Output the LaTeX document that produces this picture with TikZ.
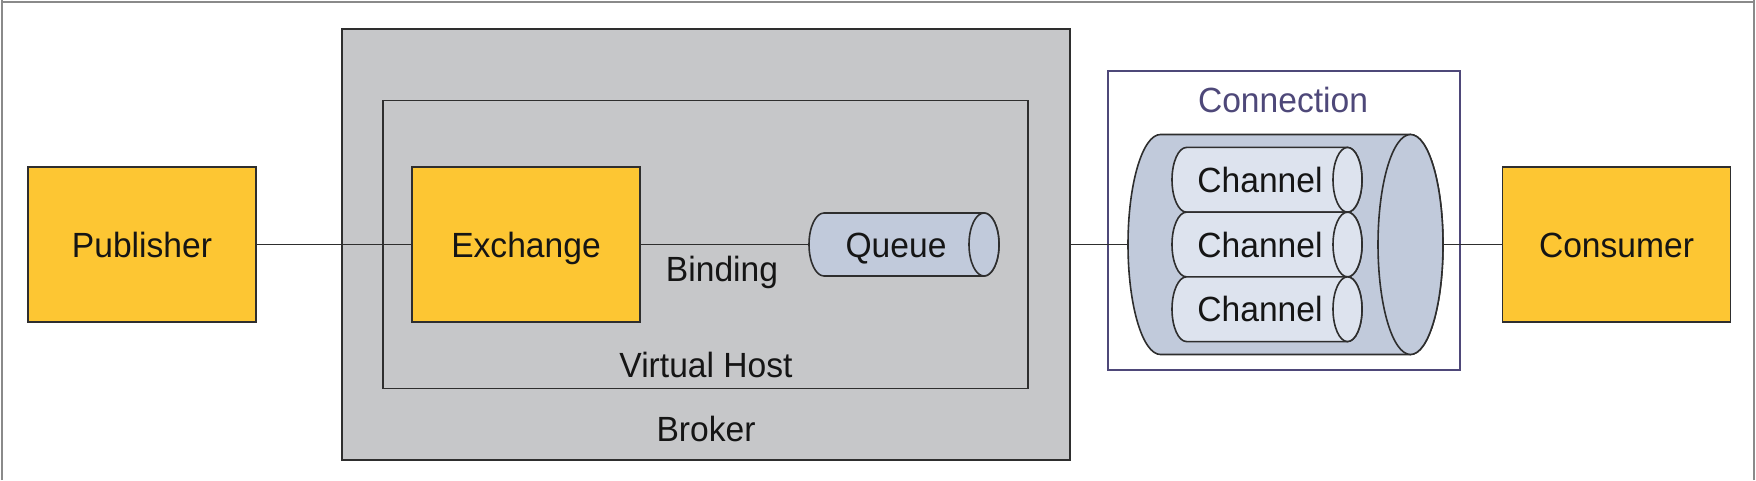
\documentclass[tikz,border=0pt]{standalone}
\usepackage{fontspec}
\setmainfont{Liberation Sans}[FakeStretch=0.96]
\definecolor{ylw}{HTML}{FDC633}
\definecolor{brk}{HTML}{C6C7C9}
\definecolor{cylf}{HTML}{C1CADB}
\definecolor{chf}{HTML}{DDE3EE}
\definecolor{connc}{HTML}{4E4879}
\definecolor{edgec}{HTML}{2E2E2E}
\definecolor{txtc}{HTML}{151515}
\definecolor{framec}{HTML}{8A8A8A}
\pgfdeclarelayer{back}
\pgfdeclarelayer{mid}
\pgfsetlayers{back,mid,main}
\begin{document}
\begin{tikzpicture}[x=1pt,y=1pt,
  lbl/.style={font=\fontsize{35}{40}\selectfont, text=txtc, inner sep=0pt, text height=25pt, text depth=0pt},
  ybox/.style={draw=edgec, line width=1.8pt, fill=ylw, inner sep=0pt, lbl, minimum height=155pt, minimum width=228pt},
  frame/.style={draw=edgec, line width=1.8pt},
  cylst/.style={draw=edgec, line width=1.6pt},
  wire/.style={draw=edgec, line width=1.4pt}]
\useasboundingbox (0,0) rectangle (1756,480);
% outer frame (open at the bottom)
\draw[framec, line width=2.5pt] (2,480) -- (2,477.8) -- (1754,477.8) -- (1754,480);
\draw[framec, line width=2.5pt] (2,0) -- (2,478) (1754,0) -- (1754,478);

\begin{pgfonlayer}{back}
\node[frame, fill=brk, minimum width=728pt, minimum height=431pt, inner sep=0pt] (broker) at (706,235.5) {};
\node[frame, minimum width=645pt, minimum height=288pt, inner sep=0pt] (vhost) at (705.5,235.5) {};
\node[draw=connc, line width=1.8pt, minimum width=352pt, minimum height=299pt, inner sep=0pt] (connbox) at (1284,259.5) {};
\end{pgfonlayer}

\node[lbl] (brokerlbl) at (706,51) {Broker};
\node[lbl] (vhostlbl) at (706,115) {Virtual Host};
\node[lbl, text=connc] (connlbl) at (1283,380) {Connection};

% yellow boxes
\node[ybox] (pub) at (142,235.5) {Publisher};
\node[ybox] (exch) at (526,235.5) {Exchange};
\node[ybox] (cons) at (1616.5,235.5) {Consumer};

% queue
\draw[cylst, fill=cylf] (824,267) -- (984,267) arc[start angle=90,end angle=-90,x radius=15,y radius=31.5] -- (824,204) arc[start angle=270,end angle=90,x radius=15,y radius=31.5] -- cycle;
\draw[cylst, fill=cylf] (984,235.5) ellipse[x radius=15,y radius=31.5];
\node[lbl] (queue) at (896,235.5) {Queue};
\coordinate (queueW) at (809,235.5);
\node[lbl] (binding) at (722,211) {Binding};

% connection cylinder
\draw[cylst, fill=cylf] (1160.5,345.5) -- (1410.5,345.5) arc[start angle=90,end angle=-90,x radius=32.5,y radius=110] -- (1160.5,125.5) arc[start angle=270,end angle=90,x radius=32.5,y radius=110] -- cycle;
\draw[cylst, fill=cylf] (1410.5,235.5) ellipse[x radius=32.5,y radius=110];
\coordinate (cylW) at (1128,235.5);
\coordinate (cylE) at (1443,235.5);

% channels
\foreach \cy/\nm in {300.2/ch1, 235.5/ch2, 170.8/ch3}{
  \draw[cylst, fill=chf] (1186.5,\cy+32.35) -- (1347.5,\cy+32.35) arc[start angle=90,end angle=-90,x radius=14.5,y radius=32.35] -- (1186.5,\cy-32.35) arc[start angle=270,end angle=90,x radius=14.5,y radius=32.35] -- cycle;
  \draw[cylst, fill=chf] (1347.5,\cy) ellipse[x radius=14.5,y radius=32.35];
  \node[lbl] (\nm) at (1260,\cy) {Channel};
}

% wires
\begin{pgfonlayer}{mid}
\draw[wire] (pub.east) -- (exch.west);
\draw[wire] (exch.east) -- (queueW);
\draw[wire] (broker.east) -- (cylW);
\draw[wire] (cylE) -- (cons.west);
\end{pgfonlayer}
\end{tikzpicture}
\end{document}
